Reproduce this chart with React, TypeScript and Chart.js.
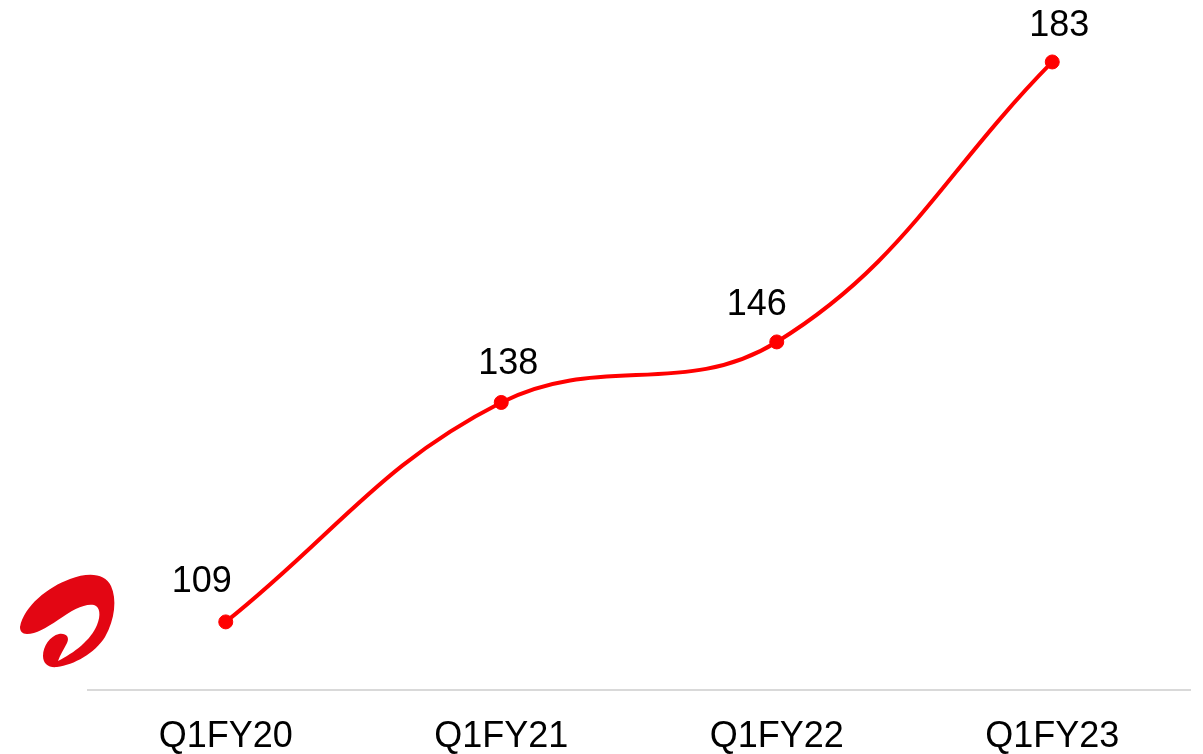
import { useEffect, useRef } from "react";
import { Chart, registerables } from "chart.js";

Chart.register(...registerables);

// Average revenue per user by quarter
const quarters = ["Q1FY20", "Q1FY21", "Q1FY22", "Q1FY23"];
const arpuValues = [109, 138, 146, 183];

// Value-label nudges relative to each point (px)
const labelShiftX = [-24, 7, -20, 7];
const labelShiftY = [-30, -28, -27, -26];

const FONT = '"Liberation Sans", Arial, Helvetica, sans-serif';
const LINE_RED = "#ff0000";
const BRAND_RED = "#e30613";

// Brand swoosh mark in the lower-left corner
function drawBrandMark(ctx: CanvasRenderingContext2D) {
  ctx.save();
  ctx.fillStyle = BRAND_RED;
  ctx.beginPath();
  ctx.moveTo(20, 627);
  ctx.bezierCurveTo(24, 606, 48, 587, 70, 579);
  ctx.bezierCurveTo(88, 572, 105, 573, 111, 586);
  ctx.bezierCurveTo(117, 599, 115, 619, 105, 637);
  ctx.bezierCurveTo(95, 653, 74, 665, 57, 667);
  ctx.bezierCurveTo(49, 668, 43, 664, 43, 656);
  ctx.bezierCurveTo(43, 646, 50, 636, 59, 634);
  ctx.bezierCurveTo(66, 633, 70, 637, 67, 643);
  ctx.bezierCurveTo(64, 649, 60, 655, 58, 661);
  ctx.bezierCurveTo(74, 653, 91, 640, 97, 625);
  ctx.bezierCurveTo(101, 615, 100, 607, 94, 605);
  ctx.bezierCurveTo(85, 603, 72, 610, 58, 620);
  ctx.bezierCurveTo(46, 628, 36, 634, 27, 634);
  ctx.bezierCurveTo(22, 634, 20, 631, 20, 627);
  ctx.closePath();
  ctx.fill();
  ctx.restore();
}

const valueLabels = {
  id: "valueLabels",
  afterDatasetsDraw(chart: Chart) {
    const ctx = chart.ctx;
    const meta = chart.getDatasetMeta(0);
    ctx.save();
    ctx.font = `36px ${FONT}`;
    ctx.fillStyle = "#000000";
    ctx.textAlign = "center";
    ctx.textBaseline = "alphabetic";
    meta.data.forEach((pt: any, i: number) => {
      const v = arpuValues[i];
      ctx.fillText(String(v), pt.x + labelShiftX[i], pt.y + labelShiftY[i]);
    });
    ctx.restore();
  },
};

const brandMark = {
  id: "brandMark",
  afterDraw(chart: Chart) {
    drawBrandMark(chart.ctx);
  },
};

export default function App() {
  const canvasRef = useRef<HTMLCanvasElement | null>(null);

  useEffect(() => {
    const canvas = canvasRef.current;
    if (!canvas) return;
    const chart = new Chart(canvas, {
      type: "line",
      data: {
        labels: quarters,
        datasets: [
          {
            data: arpuValues,
            borderColor: LINE_RED,
            backgroundColor: LINE_RED,
            borderWidth: 4,
            tension: 0.4,
            pointRadius: 7,
            pointBorderWidth: 1,
            pointBackgroundColor: LINE_RED,
            pointBorderColor: LINE_RED,
            clip: false as any,
          },
        ],
      },
      options: {
        responsive: false,
        animation: false,
        devicePixelRatio: 1,
        layout: { padding: { left: 88, right: 13, top: 9, bottom: 0 } },
        plugins: {
          legend: { display: false },
          tooltip: { enabled: false },
        },
        scales: {
          x: {
            offset: true,
            grid: { display: false, drawTicks: false },
            border: { display: true, color: "#d9d9d9", width: 2 },
            ticks: {
              color: "#000000",
              padding: 25,
              font: { family: FONT, size: 36 },
            },
            afterFit(scale: any) {
              scale.height = 64;
            },
          },
          y: {
            display: false,
            min: 100,
            max: 190,
          },
        },
      },
      plugins: [valueLabels, brandMark],
    });
    return () => chart.destroy();
  }, []);

  return (
    <div style={{ position: "absolute", left: 0, top: 0, width: 1203, height: 754, background: "#ffffff" }}>
      <canvas ref={canvasRef} width={1203} height={754} />
    </div>
  );
}
